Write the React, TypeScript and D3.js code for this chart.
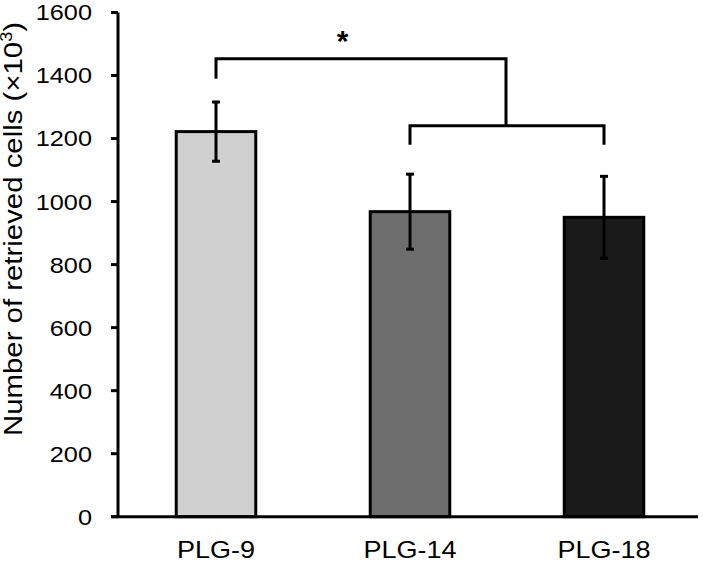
import React from "react";
import * as d3 from "d3";

const categories = ["PLG-9", "PLG-14", "PLG-18"];
const means = [1222, 968, 950];
const errors = [94, 119, 130];
const fills = ["#d0d0d0", "#6e6e6e", "#1a1a1a"];
const yTicks = [0, 200, 400, 600, 800, 1000, 1200, 1400, 1600];

export default function App() {
  const W = 703, H = 561;
  const y = d3.scaleLinear().domain([0, 1600]).range([516.7, 12.5]);
  const x = d3.scaleBand().domain(categories).range([119, 701]).paddingInner(0.59).paddingOuter(0.295);
  const bw = x.bandwidth();
  const cx = (c: string) => (x(c) as number) + bw / 2;
  const font = "'Liberation Sans', Arial, sans-serif";
  const c0 = cx(categories[0]), c1 = cx(categories[1]), c2 = cx(categories[2]);
  const upperY = y(1453);
  const lowerY = y(1241);
  const mid = 506;
  const sx = 1.15;
  return (
    <svg width={W} height={H} style={{ position: "absolute", left: 0, top: 0 }}>
      <rect width={W} height={H} fill="#fff" />
      {categories.map((c, i) => (
        <rect key={c} x={x(c)} y={y(means[i])} width={bw} height={y(0) - y(means[i])}
          fill={fills[i]} stroke="#000" strokeWidth={3} />
      ))}
      {categories.map((c, i) => (
        <g key={c + "e"} stroke="#000" strokeWidth={3}>
          <line x1={cx(c)} x2={cx(c)} y1={y(means[i] + errors[i])} y2={y(means[i] - errors[i])} />
          <line x1={cx(c) - 4} x2={cx(c) + 4} y1={y(means[i] + errors[i])} y2={y(means[i] + errors[i])} />
          <line x1={cx(c) - 4} x2={cx(c) + 4} y1={y(means[i] - errors[i])} y2={y(means[i] - errors[i])} />
        </g>
      ))}
      {/* axes */}
      <line x1={118} x2={118} y1={y(1600)} y2={y(0)} stroke="#000" strokeWidth={3} />
      <line x1={111} x2={698} y1={y(0)} y2={y(0)} stroke="#000" strokeWidth={3} />
      {yTicks.map((t) => (
        <g key={t}>
          <line x1={111} x2={118} y1={y(t)} y2={y(t)} stroke="#000" strokeWidth={3} />
          <text transform={`translate(92,${y(t)}) scale(${sx},1)`} dy="0.36em" textAnchor="end"
            fontFamily={font} fontSize={22} fill="#000">{t}</text>
        </g>
      ))}
      {categories.map((c) => (
        <text key={c + "l"} transform={`translate(${cx(c)},557.5) scale(${sx},1)`} textAnchor="middle"
          fontFamily={font} fontSize={23.5} fill="#000">{c}</text>
      ))}
      <text transform={`translate(21.5,229) rotate(-90) scale(1.13,1)`} textAnchor="middle"
        fontFamily={font} fontSize={26} fill="#000">
        Number of retrieved cells (×10<tspan dy="-10" fontSize={16}>3</tspan><tspan dy="10">)</tspan>
      </text>
      {/* significance brackets */}
      <g stroke="#000" strokeWidth={3} fill="none">
        <polyline points={`${c0},${y(1390)} ${c0},${upperY} ${mid},${upperY} ${mid},${lowerY}`} />
        <polyline points={`${c1},${y(1180)} ${c1},${lowerY} ${c2},${lowerY} ${c2},${y(1180)}`} />
      </g>
      <text x={342.5} y={51} textAnchor="middle" fontFamily={font} fontSize={30} fontWeight="bold" fill="#000">*</text>
    </svg>
  );
}
